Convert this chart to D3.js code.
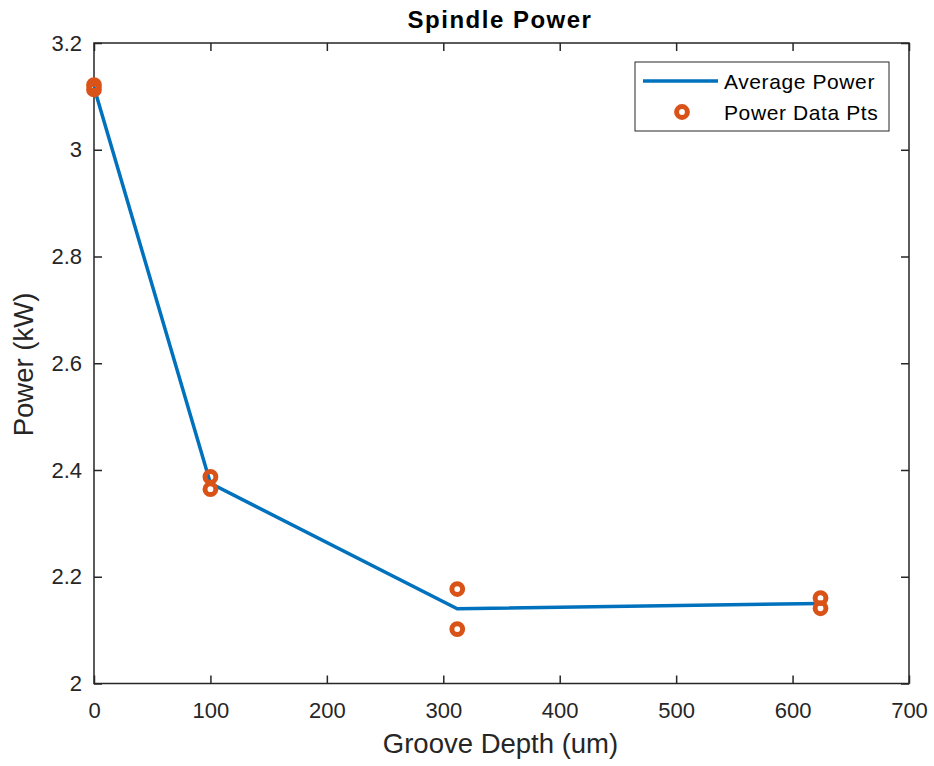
<!DOCTYPE html>
<html><head><meta charset="utf-8">
<script src="https://cdn.jsdelivr.net/npm/d3@7"></script>
<style>body{margin:0;background:#fff;}svg{display:block;font-family:"Liberation Sans",Arial,sans-serif;}</style>
</head><body>
<svg id="chart" width="934" height="766"></svg>
<script>
const depths = [0, 100, 312, 624];
const avgPower = [3.117, 2.375, 2.140, 2.150];
const ptDepths = [0, 0, 100, 100, 312, 312, 624, 624];
const ptPower = [3.121, 3.113, 2.387, 2.364, 2.177, 2.102, 2.160, 2.141];
const xTicks = [0, 100, 200, 300, 400, 500, 600, 700];
const yTicks = [2, 2.2, 2.4, 2.6, 2.8, 3, 3.2];

const svg = d3.select("#chart");
const L = 94, R = 909, T = 43, B = 683.5;
const x = d3.scaleLinear().domain([0, 700]).range([L, R]);
const y = d3.scaleLinear().domain([2, 3.2]).range([B, T]);
const axisColor = "#262626";

// box
svg.append("rect").attr("x", L).attr("y", T).attr("width", R - L).attr("height", B - T)
  .attr("fill", "#fff").attr("stroke", axisColor).attr("stroke-width", 1.5);

// axes with inward ticks
const ax = svg.append("g").attr("transform", `translate(0,${B})`)
  .call(d3.axisBottom(x).tickValues(xTicks).tickSize(-8).tickPadding(19).tickFormat(d3.format("d")));
const axTop = svg.append("g").attr("transform", `translate(0,${T})`)
  .call(d3.axisTop(x).tickValues(xTicks).tickSize(-8).tickFormat(""));
const ay = svg.append("g").attr("transform", `translate(${L},0)`)
  .call(d3.axisLeft(y).tickValues(yTicks).tickSize(-8).tickPadding(12).tickFormat(d => String(+d.toFixed(1))));
const ayR = svg.append("g").attr("transform", `translate(${R},0)`)
  .call(d3.axisRight(y).tickValues(yTicks).tickSize(-8).tickFormat(""));
[ax, axTop, ay, ayR].forEach(g => {
  g.select(".domain").remove();
  g.selectAll("line").attr("stroke", axisColor).attr("stroke-width", 1.5);
  g.selectAll("text").attr("fill", axisColor).style("font-size", "22px");
});

// line
const line = d3.line().x((d, i) => x(depths[i])).y(d => y(d));
svg.append("path").datum(avgPower).attr("d", line).attr("fill", "none")
  .attr("stroke", "#0072BD").attr("stroke-width", 3.5);

// points
svg.append("g").selectAll("circle").data(ptPower).join("circle")
  .attr("cx", (d, i) => x(ptDepths[i])).attr("cy", d => y(d)).attr("r", 5.4)
  .attr("fill", "none").attr("stroke", "#D95319").attr("stroke-width", 5);

// title and labels
svg.append("text").attr("x", 500).attr("y", 28).attr("text-anchor", "middle")
  .style("font-size", "24px").style("font-weight", "bold").style("letter-spacing", "1.5px")
  .attr("fill", "#000").text("Spindle Power");
svg.append("text").attr("x", 500.5).attr("y", 753).attr("text-anchor", "middle")
  .style("font-size", "27.5px").attr("fill", axisColor).text("Groove Depth (um)");
svg.append("text").attr("transform", `translate(33,364.5) rotate(-90)`).attr("text-anchor", "middle")
  .style("font-size", "27.5px").attr("fill", axisColor).text("Power (kW)");

// legend
const lg = svg.append("g");
lg.append("rect").attr("x", 635).attr("y", 62).attr("width", 254).attr("height", 69)
  .attr("fill", "#fff").attr("stroke", axisColor).attr("stroke-width", 1);
lg.append("line").attr("x1", 643).attr("x2", 718).attr("y1", 81).attr("y2", 81)
  .attr("stroke", "#0072BD").attr("stroke-width", 3.5);
lg.append("circle").attr("cx", 682).attr("cy", 112).attr("r", 5.4)
  .attr("fill", "none").attr("stroke", "#D95319").attr("stroke-width", 5);
lg.append("text").attr("x", 724).attr("y", 88.5).style("font-size", "21px").style("letter-spacing", "0.6px")
  .attr("fill", "#000").text("Average Power");
lg.append("text").attr("x", 724).attr("y", 119.5).style("font-size", "21px").style("letter-spacing", "0.6px")
  .attr("fill", "#000").text("Power Data Pts");
</script>
</body></html>
